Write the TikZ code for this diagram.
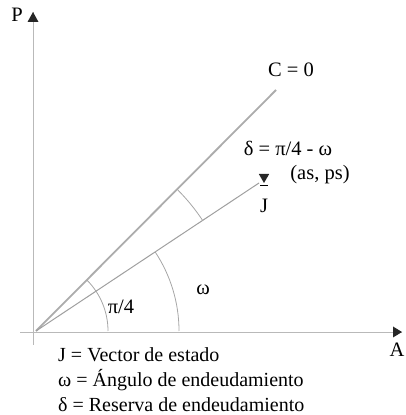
\documentclass[tikz,border=0pt]{standalone}
\usepackage{fontspec}
\setmainfont{Liberation Serif}
\usepackage{tikz}
\usetikzlibrary{shapes.geometric, arrows.meta, positioning, calc}

\begin{document}
\begin{tikzpicture}[
    x=1pt, y=1pt,
    tipfill/.style={black!85},
    ray/.style={line width=1.8pt,gray!65},
    vec/.style={line width=1pt,gray!75},
    angarc/.style={line width=0.8pt,gray!70},
    lbl/.style={font=\fontsize{20.5}{25}\selectfont,inner sep=0pt},
    legend/.style={font=\fontsize{20}{25}\selectfont,inner sep=0pt,anchor=west}
]
\useasboundingbox (0,0) rectangle (405,415);

% Axes
\coordinate (o) at (36,84);
\coordinate (ybot) at (33,70);
\coordinate (ytop) at (33,403);
\coordinate (xleft) at (20,83);
\coordinate (xright) at (402,83);
\draw[thin,gray!55] (ybot) -- (ytop);
\draw[thin,gray!55] (xleft) -- (xright);
\fill[tipfill] (ytop) -- ++(-5.5,-10) -- ++(11,0) -- cycle;
\fill[tipfill] (xright) -- ++(-9,5.5) -- ++(0,-11) -- cycle;
\node[lbl] (p) at (17,400) {P};
\node[lbl] (a) at (397,65) {A};

% Rays
\coordinate (c) at (276,325);
\coordinate (j) at (259,232);
\draw[ray] (o) -- (c);
\draw[vec] (o) -- (j);

% Angle arcs
\draw[angarc] ($(o)+(72,0)$) arc[start angle=0,end angle=45,radius=72];
\draw[angarc] ($(o)+(143,0)$) arc[start angle=0,end angle=33.46,radius=143];
\draw[angarc] ($(o)+(33.46:200)$) arc[start angle=33.46,end angle=45,radius=200];

% Vector tip and name
\node[regular polygon, regular polygon sides=3, shape border rotate=180,
      fill=black!85, inner sep=0pt, minimum size=12pt] (jtip) at (264,238) {};
\node[lbl, align=center, below=1pt of jtip] (jname) {\rule{8pt}{1.6pt}\\[1pt]J};

% Labels
\node[lbl] (czero) at (291,345) {C = 0};
\node[lbl] (delta) at (288,267) {δ = π/4 - ω};
\node[lbl] (state) at (320,240) {(as, ps)};
\node[lbl] (quarter) at (121,108) {π/4};
\node[lbl] (omega) at (203,125) {ω};

% Legend
\node[legend] (leg1) at (58,60) {J = Vector de estado};
\node[legend] (leg2) at (58,35) {ω = Ángulo de endeudamiento};
\node[legend] (leg3) at (58,10) {δ = Reserva de endeudamiento};

\end{tikzpicture}
\end{document}
